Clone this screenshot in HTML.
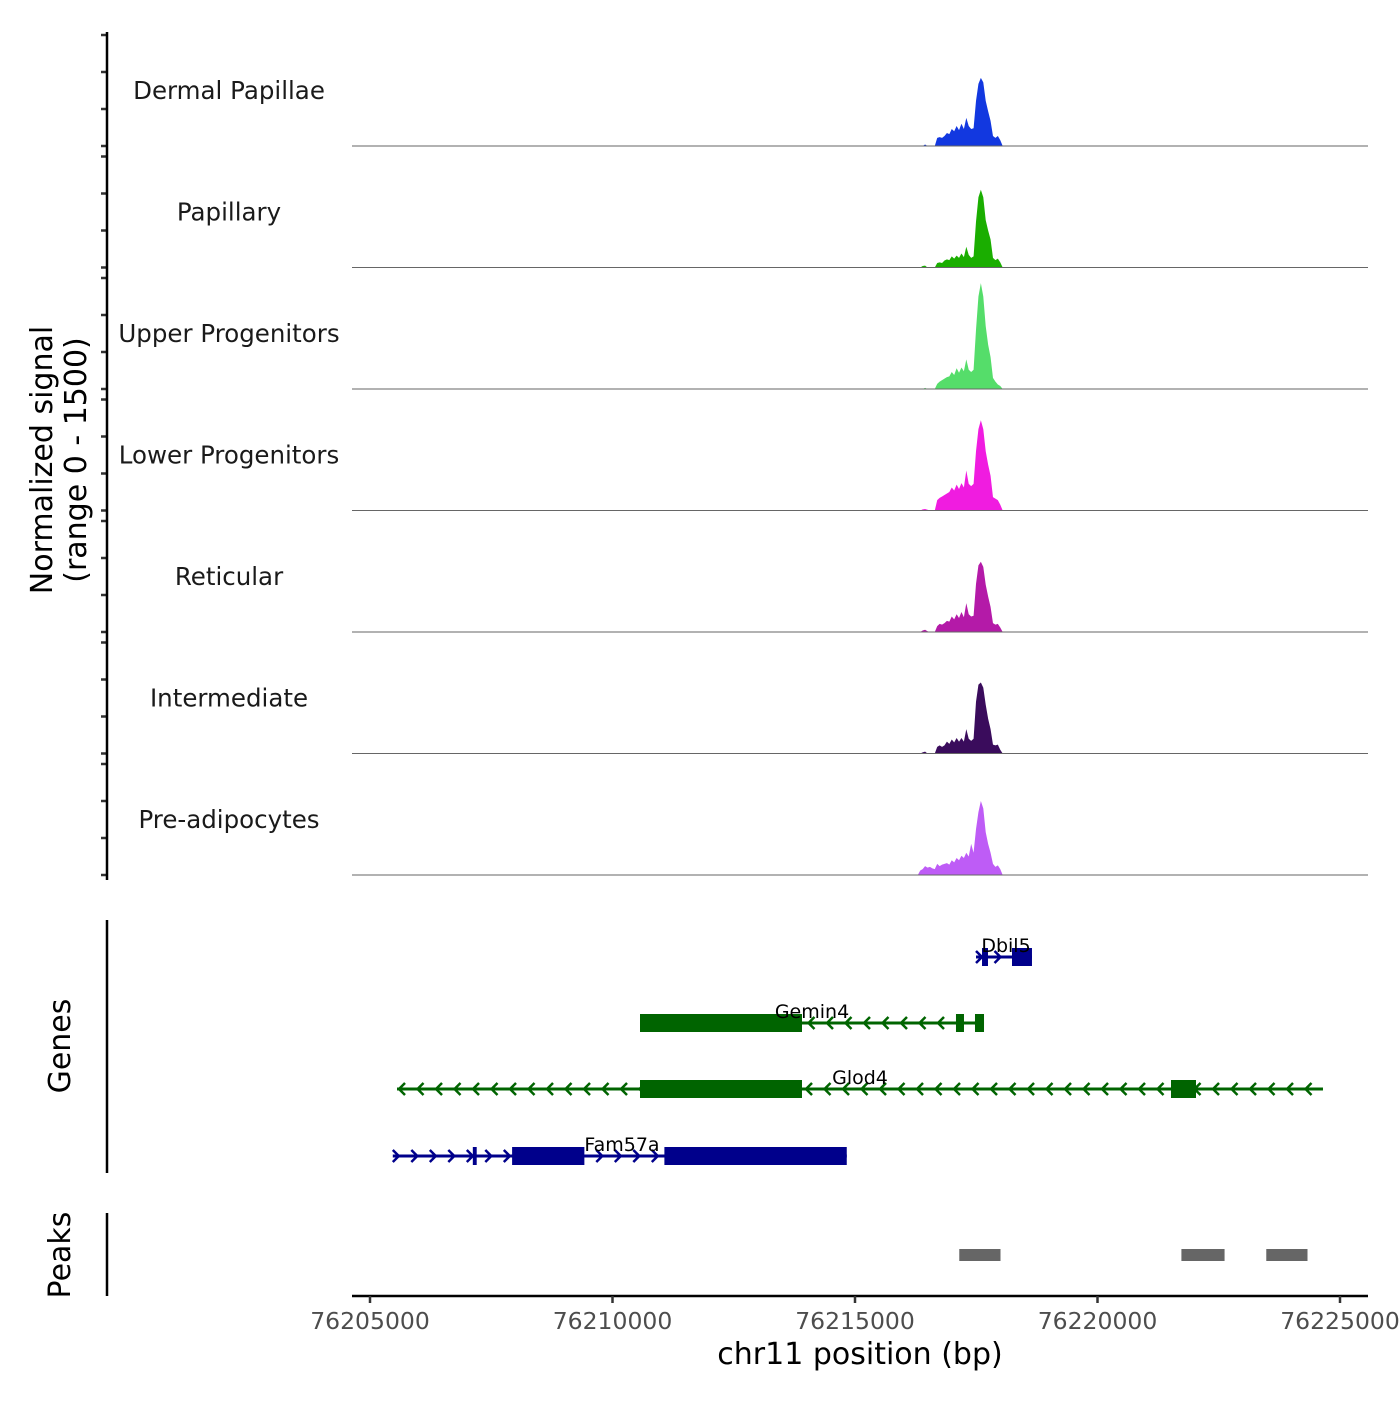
<!DOCTYPE html>
<html><head><meta charset="utf-8"><style>
body{margin:0;background:#fff}
svg text{font-family:"DejaVu Sans","Liberation Sans",sans-serif}
</style></head><body>
<svg id="c" width="1400" height="1400" viewBox="0 0 1400 1400"></svg>
<script>
const trackNames=["Dermal Papillae","Papillary","Upper Progenitors","Lower Progenitors","Reticular","Intermediate","Pre-adipocytes"];
const trackColors=["#1238e0","#1aae00","#55dd6a","#f01ce0","#b41aa8","#3a0c5c","#be5cf6"];
const binStart=76216270, binSize=50;
// signal values (0-1500 scale) per 50bp bin starting at binStart
const sigDP=[0,0,0,20,0,0,0,0,110,120,110,135,175,160,230,200,270,215,300,230,380,270,230,240,610,840,920,860,610,470,340,135,110,135,80,0];
const sigPap=[0,0,20,25,0,0,0,0,60,70,60,95,110,100,150,120,160,130,190,140,280,170,130,150,620,950,1050,950,640,500,380,130,100,120,70,0];
const sigUP=[0,0,0,15,0,0,0,0,70,100,120,140,160,170,230,190,280,220,290,240,400,260,230,260,800,1250,1430,1250,850,600,430,150,100,60,40,0];
const sigLP=[0,0,15,20,10,0,0,0,140,170,190,210,230,250,310,270,350,290,370,310,540,360,330,360,800,1100,1220,1100,800,620,470,180,160,140,80,0];
const sigRet=[0,0,20,30,10,0,0,0,80,110,100,120,150,140,210,170,240,190,270,200,390,240,210,220,650,900,950,880,640,480,340,120,100,110,60,0];
const sigInt=[0,0,15,25,0,0,0,0,90,110,90,110,160,130,190,150,210,160,210,160,330,200,170,200,700,930,960,890,660,470,330,120,110,120,50,0];
const sigPre=[0,60,80,120,100,110,90,80,150,120,140,150,160,140,200,170,230,200,260,230,300,250,420,300,620,850,1000,900,580,420,300,150,110,130,80,0];
const tracks=[sigDP,sigPap,sigUP,sigLP,sigRet,sigInt,sigPre];
const xTicks=[76205000,76210000,76215000,76220000,76225000];
const geneNames=["Dbil5","Gemin4","Glod4","Fam57a"];
const geneStrand=[1,-1,-1,1];
const geneStart=[76217495,76210567,76205557,76205470];
const geneEnd=[76218649,76217660,76224649,76214830];
const geneExons=[[[76217619,76217742],[76218237,76218649]],[[76210567,76213907],[76217082,76217247],[76217474,76217660]],[[76210567,76213907],[76221515,76222031]],[[76207120,76207200],[76207930,76209420],[76211070,76214830]]];
const geneColors=["#00008b","#006400","#006400","#00008b"];
const peakStart=[76217150,76221730,76223480];
const peakEnd=[76218000,76222620,76224330];

const NS="http://www.w3.org/2000/svg";
const svg=document.getElementById("c");
function el(t,a,p){const e=document.createElementNS(NS,t);for(const k in a)e.setAttribute(k,a[k]);(p||svg).appendChild(e);return e;}
const X=bp=>370+(bp-76205000)*242.5/5000;
const trackH=121.5, base0=146, yScale=111/1500;

trackNames.forEach((nm,ti)=>{
  const g=el("g",{});
  
  
  const base=base0+ti*trackH;
  const sig=tracks[ti];
  let d="M352,"+base+" L"+X(binStart)+","+base;
  sig.forEach((v,i)=>{const x=X(binStart+(i+0.5)*binSize);const y=base-v*yScale;d+=" L"+x+","+y;});
  d+=" L"+X(binStart+sig.length*binSize)+","+base+" L1368,"+base+" Z";
  const a=el("path",{d:d,fill:trackColors[ti],stroke:"none"},g);
  
  
  const l=el("line",{x1:352,x2:1368,y1:base,y2:base,stroke:"#666","stroke-width":1},g);
  
  
  const t=el("text",{x:229,y:base-47,"text-anchor":"middle","font-size":24.5,fill:"#1a1a1a"},g);
  t.textContent=nm;
  
  
  for(let k=0;k<4;k++){const ty=base-k*37;const tk=el("line",{x1:101,x2:107,y1:ty,y2:ty,stroke:"#333","stroke-width":2.5},g);
    
    }
});
let ax=el("line",{x1:107,x2:107,y1:32,y2:880,stroke:"#000","stroke-width":2.5});


let yt=el("text",{transform:"translate(52,460) rotate(-90)","text-anchor":"middle","font-size":30,fill:"#000"});


yt.innerHTML='<tspan x="0" dy="0">Normalized signal</tspan><tspan x="0" dy="34">(range 0 - 1500)</tspan>';

const geneY=[957,1023,1089,1156];
geneNames.forEach((nm,gi)=>{
  const g=el("g",{});
  
  
  const y=geneY[gi],c=geneColors[gi];
  const x1=X(geneStart[gi]),x2=X(geneEnd[gi]);
  el("line",{x1:x1,x2:x2,y1:y,y2:y,stroke:c,"stroke-width":3},g);
  for(let x=x1+4;x<x2-4;x+=18.5){
    const s=geneStrand[gi];
    el("polyline",{points:(x-4*s)+","+(y-6)+" "+(x+2*s)+","+y+" "+(x-4*s)+","+(y+6),fill:"none",stroke:c,"stroke-width":2.5},g);
  }
  geneExons[gi].forEach(e=>{const r=el("rect",{x:X(e[0]),y:y-9,width:X(e[1])-X(e[0]),height:18,fill:c},g);
    
    });
  const lx=(gi==0)?1006:(gi==1?812:(gi==2?860:622));
  const t=el("text",{x:lx,y:y-5,"text-anchor":"middle","font-size":19,fill:"#000"},g);
  t.textContent=nm;
  
  
});
ax=el("line",{x1:107,x2:107,y1:920,y2:1173,stroke:"#000","stroke-width":2.5});


let gt=el("text",{transform:"translate(70,1046) rotate(-90)","text-anchor":"middle","font-size":30,fill:"#000"});
gt.textContent="Genes";



peakStart.forEach((s,i)=>{const r=el("rect",{x:X(s),y:1249,width:X(peakEnd[i])-X(s),height:12,fill:"#666"});
  
  });
ax=el("line",{x1:107,x2:107,y1:1213,y2:1296,stroke:"#000","stroke-width":2.5});


let pt=el("text",{transform:"translate(70,1255) rotate(-90)","text-anchor":"middle","font-size":30,fill:"#000"});
pt.textContent="Peaks";



ax=el("line",{x1:352,x2:1368,y1:1296,y2:1296,stroke:"#000","stroke-width":2.5});


xTicks.forEach(v=>{
  const tk=el("line",{x1:X(v),x2:X(v),y1:1296,y2:1303,stroke:"#333","stroke-width":2.5});
  
  
  const t=el("text",{x:X(v),y:1329,"text-anchor":"middle","font-size":23.5,fill:"#4d4d4d"});
  t.textContent=v;
  
  
});
let xt=el("text",{x:860,y:1364,"text-anchor":"middle","font-size":30,fill:"#000"});
xt.textContent="chr11 position (bp)";


</script>
</body></html>
